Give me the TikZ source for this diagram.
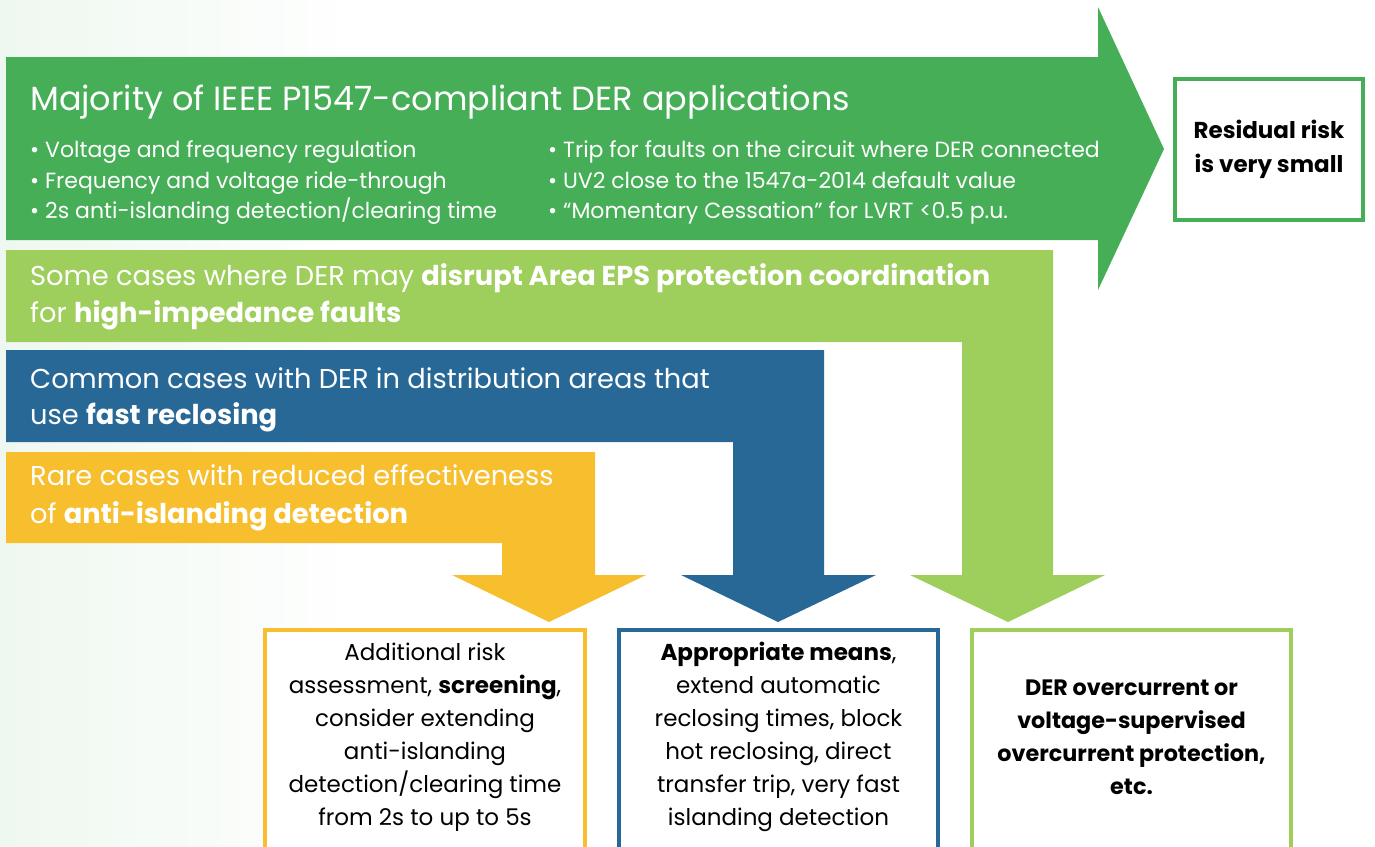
\documentclass[tikz,border=0pt]{standalone}
\usepackage{fontspec}
\setmainfont{Poppins}
\usetikzlibrary{positioning}

\definecolor{dergreen}{RGB}{69,174,87}
\definecolor{hizgreen}{RGB}{158,206,92}
\definecolor{recblue}{RGB}{40,104,150}
\definecolor{isyellow}{RGB}{247,190,46}

\begin{document}
\begin{tikzpicture}[x=1pt, y=-1pt,
  titletext/.style={anchor=base west, text=white, inner sep=0pt, font=\fontsize{33.5}{40}\selectfont},
  bandtext/.style={anchor=base west, text=white, inner sep=0pt, font=\fontsize{27.3}{37}\selectfont},
  bullettext/.style={anchor=base west, text=white, inner sep=0pt, font=\fontsize{22}{30}\selectfont},
  outbox/.style={line width=4pt, fill=white},
  outtext/.style={align=center, inner sep=0pt, font=\fontsize{23}{33}\selectfont}]

\useasboundingbox ( 0, 0 ) rectangle ( 1375, 846 );
\clip ( 0, 0 ) rectangle ( 1375, 846 );

% Background
\shade [left color=dergreen!9!white, right color=white] ( 0, 0 ) rectangle ( 360, 846 );

% Majority band
\fill [dergreen] ( 6, 57 ) -- ( 1098, 57 ) -- ++( 0, -50 ) -- ( 1164, 149 ) -- ( 1098, 290 ) -- ++( 0, -50 ) -- ( 6, 240 ) -- cycle;

% High-impedance band
\fill [hizgreen] ( 6, 250 ) -- ( 1053, 250 ) -- ( 1053, 575 ) -- ++( 52, 0 ) -- ( 1008, 622 ) -- ( 910, 575 ) -- ++( 52, 0 ) -- ( 962, 342 ) -- ( 6, 342 ) -- cycle;

% Reclosing band
\fill [recblue] ( 6, 350 ) -- ( 824, 350 ) -- ( 824, 575 ) -- ++( 52, 0 ) -- ( 778, 622 ) -- ( 681, 575 ) -- ++( 52, 0 ) -- ( 733, 442 ) -- ( 6, 442 ) -- cycle;

% Anti-islanding band
\fill [isyellow] ( 6, 452 ) -- ( 595, 452 ) -- ( 595, 575 ) -- ++( 51, 0 ) -- ( 549, 622 ) -- ( 452, 575 ) -- ++( 50, 0 ) -- ( 502, 543 ) -- ( 6, 543 ) -- cycle;

% Boxes
\node (residual) [outbox, draw=dergreen, minimum width=188, minimum height=141] at ( 1269, 149.5 ) {};
\node (screenbox) [outbox, draw=isyellow, minimum width=320, minimum height=238] at ( 425, 749 ) {};
\node (meansbox) [outbox, draw=recblue, minimum width=319, minimum height=238] at ( 778.5, 749 ) {};
\node (protbox) [outbox, draw=hizgreen, minimum width=319, minimum height=238] at ( 1131.5, 749 ) {};

% Labels
\node (majority) [titletext] at ( 30, 110 ) {Majority of IEEE P1547-compliant DER applications};
\node (reg) [bullettext] at ( 30, 157 ) {\textbullet\ Voltage and frequency regulation};
\node (ride) [bullettext] at ( 30, 188 ) {\textbullet\ Frequency and voltage ride-through};
\node (clear) [bullettext] at ( 30, 218 ) {\textbullet\ 2s anti-islanding detection/clearing time};
\node (trip) [bullettext] at ( 548, 157 ) {\textbullet\ Trip for faults on the circuit where DER connected};
\node (uv) [bullettext] at ( 548, 188 ) {\textbullet\ UV2 close to the 1547a-2014 default value};
\node (cess) [bullettext] at ( 548, 218 ) {\textbullet\ “Momentary Cessation” for LVRT <0.5 p.u.};

\node (hiz1) [bandtext] at ( 30, 285 ) {Some cases where DER may \textbf{disrupt Area EPS protection coordination}};
\node (hiz2) [bandtext] at ( 30, 322 ) {for \textbf{high-impedance faults}};
\node (rec1) [bandtext] at ( 30, 388 ) {Common cases with DER in distribution areas that};
\node (rec2) [bandtext] at ( 30, 424 ) {use \textbf{fast reclosing}};
\node (isl1) [bandtext] at ( 30, 485 ) {Rare cases with reduced effectiveness};
\node (isl2) [bandtext] at ( 30, 523 ) {of \textbf{anti-islanding detection}};

\node (residualtext) [outtext, font=\fontsize{23}{34}\selectfont\bfseries] at (residual) {Residual risk\\is very small};
\node (screentext) [outtext] at ( 425, 737 ) {Additional risk\\assessment, \textbf{screening},\\consider extending\\anti-islanding\\detection/clearing time\\from 2s to up to 5s};
\node (meanstext) [outtext] at ( 778.5, 737 ) {\textbf{Appropriate means},\\extend automatic\\reclosing times, block\\hot reclosing, direct\\transfer trip, very fast\\islanding detection};
\node (prottext) [outtext, font=\fontsize{22.3}{33}\selectfont\bfseries] at ( 1131.5, 737 ) {DER overcurrent or\\voltage-supervised\\overcurrent protection,\\etc.};

\end{tikzpicture}
\end{document}
